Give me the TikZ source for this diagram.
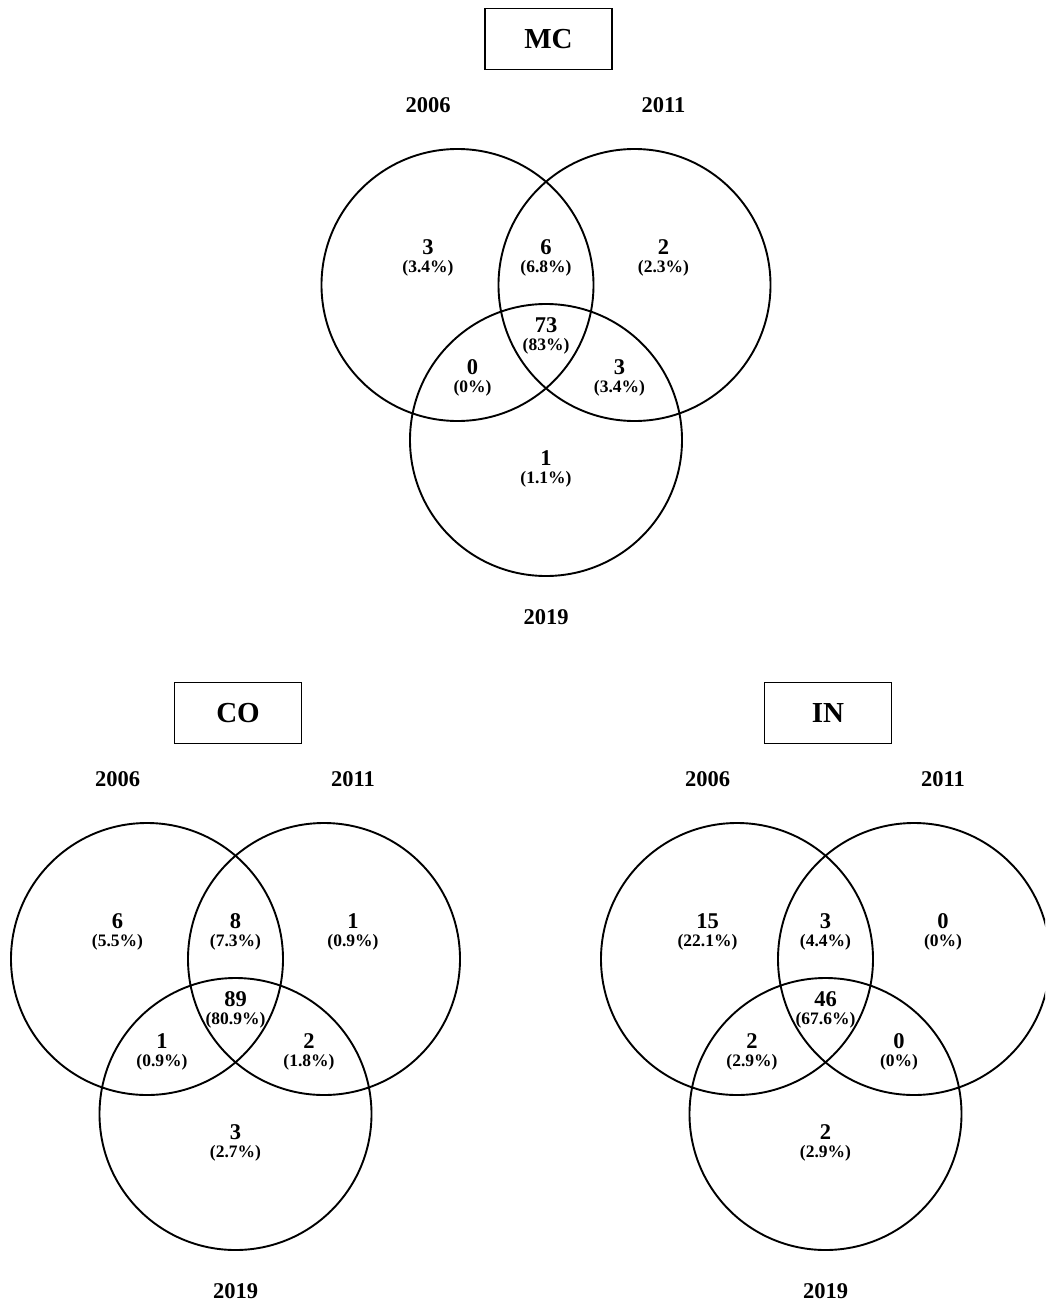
\documentclass[tikz,border=0pt]{standalone}
\usepackage{fontspec}
\setmainfont{Liberation Serif}
\newcommand\vregion[5]{%
  \node[numtxt] (#1n) at (#2,#3+7.5) {#4};
  \node[pcttxt] (#1p) at (#2,#3+25) {#5};}
\newcommand\vennbase[2]{%
  \node[vcircle] (#1A) at (0,0) {};
  \node[vcircle] (#1B) at (177,0) {};
  \node[vcircle] (#1C) at (88.5,155) {};
  \node[titlebox] (#1title) at (91,-246) {#2};
  \node[yeartxt] (#1y1) at (-29.5,-180+7.7) {2006};
  \node[yeartxt] (#1y2) at (206,-180+7.7) {2011};
  \node[yeartxt] (#1y3) at (88.5,332+7.7) {2019};}
\begin{document}
\begin{tikzpicture}[x=1pt,y=-1pt,
  vcircle/.style={draw, line width=1.9pt, circle, minimum size=272pt, inner sep=0pt, outer sep=0pt},
  titlebox/.style={draw, line width=1.5pt, minimum width=127pt, minimum height=61pt, inner sep=0pt,
    font=\fontsize{29}{30}\selectfont\bfseries},
  yeartxt/.style={anchor=base, inner sep=0pt, font=\fontsize{22.5}{24}\selectfont\bfseries},
  numtxt/.style={anchor=base, inner sep=0pt, font=\fontsize{22.5}{24}\selectfont\bfseries},
  pcttxt/.style={anchor=base, inner sep=0pt, font=\fontsize{17.5}{19}\selectfont\bfseries}]
\useasboundingbox (0,0) rectangle (1045,1306);
\clip (0,0) rectangle (1045,1306);
% ---------------- MC ----------------
\begin{scope}[shift={(457.5,285)}]
  \vennbase{mc}{MC}
  \vregion{mcA}{-29.5}{-38}{3}{(3.4\%)}
  \vregion{mcAB}{88.5}{-38}{6}{(6.8\%)}
  \vregion{mcB}{206}{-38}{2}{(2.3\%)}
  \vregion{mcABC}{88.5}{40}{73}{(83\%)}
  \vregion{mcAC}{15}{82}{0}{(0\%)}
  \vregion{mcBC}{162}{82}{3}{(3.4\%)}
  \vregion{mcC}{88.5}{173}{1}{(1.1\%)}
\end{scope}
% ---------------- CO ----------------
\begin{scope}[shift={(147,959)}]
  \vennbase{co}{CO}
  \vregion{coA}{-29.5}{-38}{6}{(5.5\%)}
  \vregion{coAB}{88.5}{-38}{8}{(7.3\%)}
  \vregion{coB}{206}{-38}{1}{(0.9\%)}
  \vregion{coABC}{88.5}{40}{89}{(80.9\%)}
  \vregion{coAC}{15}{82}{1}{(0.9\%)}
  \vregion{coBC}{162}{82}{2}{(1.8\%)}
  \vregion{coC}{88.5}{173}{3}{(2.7\%)}
\end{scope}
% ---------------- IN ----------------
\begin{scope}[shift={(737,959)}]
  \vennbase{in}{IN}
  \vregion{inA}{-29.5}{-38}{15}{(22.1\%)}
  \vregion{inAB}{88.5}{-38}{3}{(4.4\%)}
  \vregion{inB}{206}{-38}{0}{(0\%)}
  \vregion{inABC}{88.5}{40}{46}{(67.6\%)}
  \vregion{inAC}{15}{82}{2}{(2.9\%)}
  \vregion{inBC}{162}{82}{0}{(0\%)}
  \vregion{inC}{88.5}{173}{2}{(2.9\%)}
\end{scope}
\end{tikzpicture}
\end{document}
